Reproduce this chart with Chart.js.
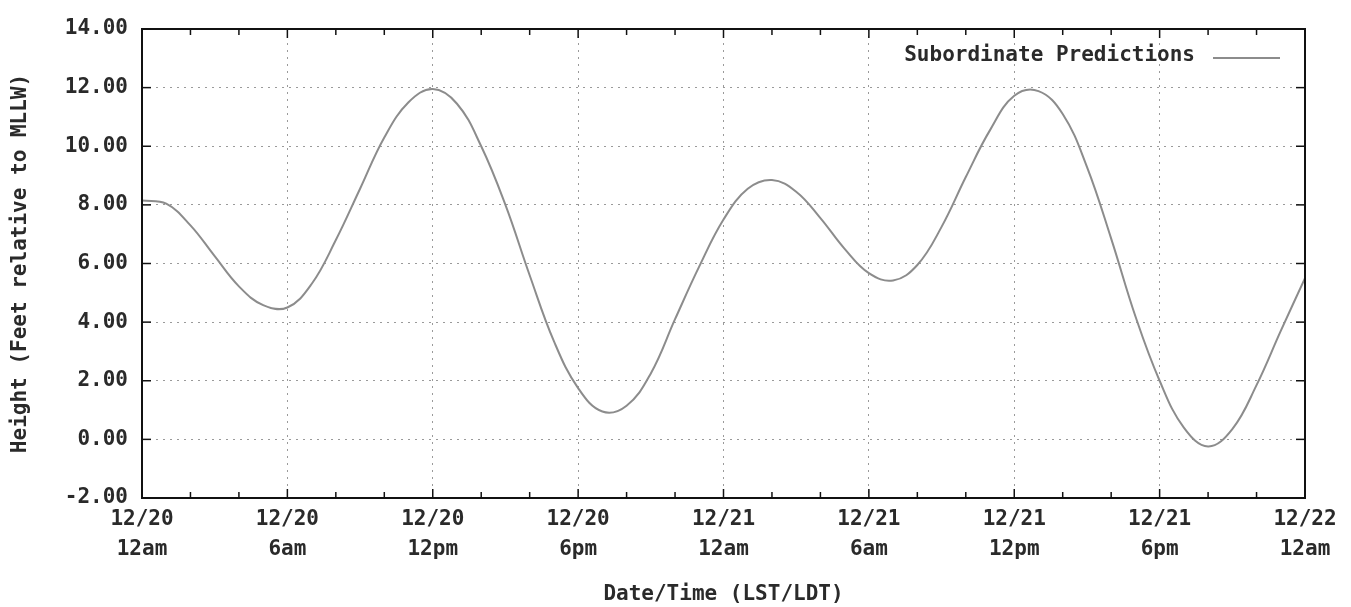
<!DOCTYPE html>
<html><head><meta charset="utf-8">
<script src="https://cdn.jsdelivr.net/npm/chart.js@4/dist/chart.umd.min.js"></script>
<style>html,body{margin:0;padding:0;background:#fff;}#wrap{width:1351px;height:607px;}</style>
</head><body><div id="wrap"><canvas id="c" width="1351" height="607"></canvas></div>
<script>
// Hours since 12/20 12am
const hours = [0,1,2,3,4,5,6,7,8,9,10,11,12,13,14,15,16,17,18,19,20,21,22,23,24,25,26,27,28,29,30,31,32,33,34,35,36,37,38,39,40,41,42,43,44,45,46,47,48];
// Predicted height (feet relative to MLLW)
const heights = [
  8.15, 8.04, 7.30, 6.25, 5.22, 4.58,
  4.50, 5.30, 6.80, 8.55, 10.30, 11.50,
  11.95, 11.45, 10.00, 8.00, 5.60, 3.35, 1.75, 0.95,
  1.15, 2.25, 4.10, 5.90, 7.50, 8.55,
  8.85, 8.45, 7.55, 6.50, 5.67,
  5.42, 5.95, 7.25, 8.95, 10.55, 11.72,
  11.88, 11.10, 9.30, 6.85, 4.20, 2.00, 0.40,
  -0.24, 0.35, 1.85, 3.70, 5.50
];
const xTickDates = ['12/20','12/20','12/20','12/20','12/21','12/21','12/21','12/21','12/22'];
const xTickTimes = ['12am','6am','12pm','6pm','12am','6am','12pm','6pm','12am'];
const seriesName = 'Subordinate Predictions';

const FONT = '"DejaVu Sans Mono", "Liberation Mono", monospace';
const TXT = '#2a2a2a';
const LINE = '#8c8c8c';

const framePlugin = {
  id: 'frame',
  afterDraw(chart) {
    const {ctx, chartArea: {left, right, top, bottom}, scales: {x, y}} = chart;
    ctx.save();
    ctx.strokeStyle = '#111';
    ctx.lineWidth = 2;
    ctx.strokeRect(left, top, right - left, bottom - top);
    ctx.lineWidth = 1.5;
    const seg = (a, b, c, d) => { ctx.beginPath(); ctx.moveTo(a, b); ctx.lineTo(c, d); ctx.stroke(); };
    x.ticks.forEach(t => {
      const px = x.getPixelForValue(t.value);
      const len = t.value % 6 === 0 ? 9 : 6;
      seg(px, bottom, px, bottom - len);
      seg(px, top, px, top + len);
    });
    y.ticks.forEach(t => {
      const py = y.getPixelForValue(t.value);
      seg(left, py, left + 9, py);
      seg(right, py, right - 9, py);
    });
    // key (gnuplot style: text, then line sample) inside top-right of the plot
    const ds = chart.data.datasets[0];
    const lineEnd = right - 25, lineStart = lineEnd - 67;
    const ky = top + 27;
    ctx.font = 'bold 21px ' + FONT;
    ctx.fillStyle = TXT;
    ctx.textAlign = 'right';
    ctx.textBaseline = 'middle';
    ctx.fillText(ds.label, lineStart - 18, ky);
    ctx.strokeStyle = ds.borderColor;
    ctx.lineWidth = ds.borderWidth;
    seg(lineStart, ky + 2, lineEnd, ky + 2);
    ctx.restore();
  }
};

new Chart(document.getElementById('c'), {
  type: 'line',
  data: {
    datasets: [{
      label: seriesName,
      data: hours.map((h, i) => ({x: h, y: heights[i]})),
      borderColor: LINE,
      borderWidth: 2,
      pointRadius: 0,
      tension: 0.4,
      fill: false
    }]
  },
  options: {
    responsive: false,
    animation: false,
    devicePixelRatio: 1,
    layout: {padding: {top: 29, right: 46, left: 0, bottom: 0}},
    plugins: {
      tooltip: {enabled: false},
      legend: {display: false}
    },
    scales: {
      x: {
        type: 'linear',
        min: 0, max: 48,
        afterFit: s => { s.height = 109; },
        ticks: {
          stepSize: 2,
          autoSkip: false,
          maxRotation: 0,
          padding: 7,
          color: TXT,
          font: {family: FONT, size: 21, weight: 'bold', lineHeight: 1.4},
          callback: v => (v % 6 === 0 ? [xTickDates[v / 6], xTickTimes[v / 6]] : '')
        },
        grid: {
          drawTicks: false,
          lineWidth: 1,
          color: c => (c.tick && c.tick.value % 6 === 0 && c.tick.value > 0 && c.tick.value < 48 ? '#9a9a9a' : 'rgba(0,0,0,0)')
        },
        border: {display: false, dash: [2, 5]},
        title: {
          display: true,
          text: 'Date/Time (LST/LDT)',
          color: TXT,
          font: {family: FONT, size: 21, weight: 'bold', lineHeight: 1.2},
          padding: {top: 0, bottom: 0}
        }
      },
      y: {
        min: -2, max: 14,
        afterFit: s => { s.width = 142; },
        ticks: {
          stepSize: 2,
          padding: 14,
          color: TXT,
          font: {family: FONT, size: 21, weight: 'bold'},
          callback: v => v.toFixed(2)
        },
        grid: {
          drawTicks: false,
          lineWidth: 1,
          color: c => (c.tick && c.tick.value > -2 && c.tick.value < 14 ? '#9a9a9a' : 'rgba(0,0,0,0)')
        },
        border: {display: false, dash: [2, 5]},
        title: {
          display: true,
          text: 'Height (Feet relative to MLLW)',
          color: TXT,
          font: {family: FONT, size: 21, weight: 'bold', lineHeight: 1.2},
          padding: {top: 8, bottom: 0}
        }
      }
    }
  },
  plugins: [framePlugin]
});
</script></body></html>
